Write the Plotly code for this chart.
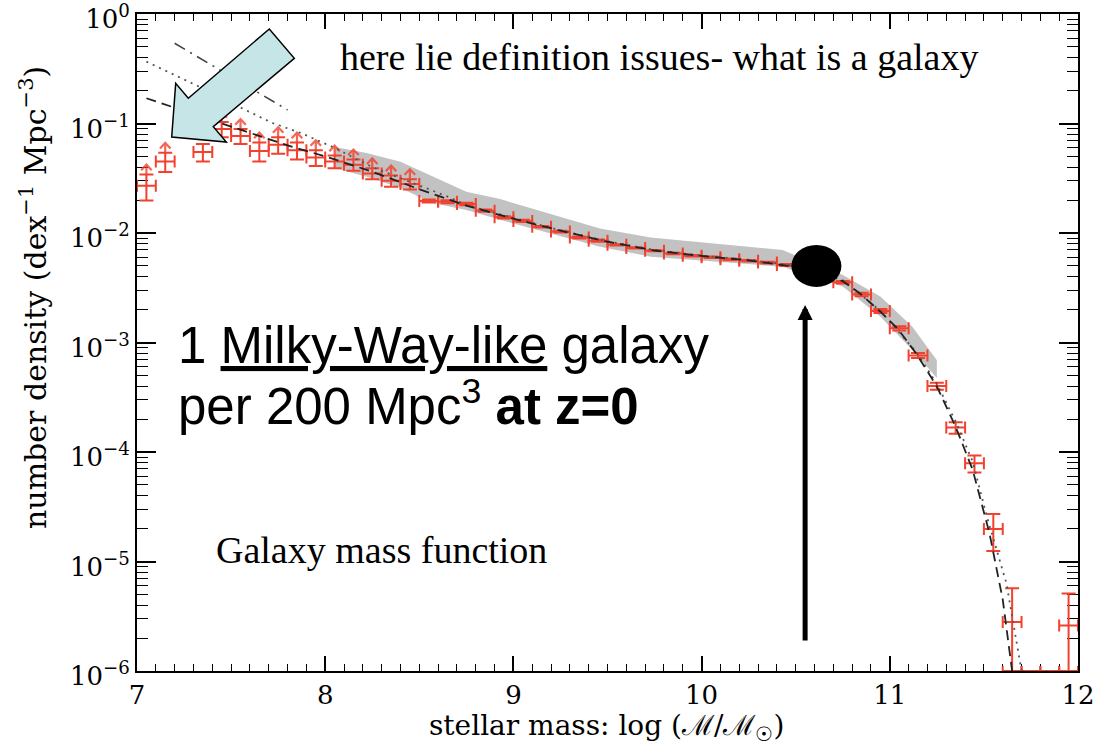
import numpy as np
import plotly.graph_objects as go

# ---------------------------------------------------------------------------
# Galaxy stellar mass function at z = 0
# ---------------------------------------------------------------------------

# binned measurements: bin centre (log M/Msun), density (dex^-1 Mpc^-3), 1-sigma error
mass_bins = [7.05, 7.15, 7.35, 7.45, 7.55, 7.65, 7.75, 7.85, 7.95,
             8.05, 8.15, 8.25, 8.35, 8.45, 8.55, 8.65, 8.75, 8.85, 8.95,
             9.05, 9.15, 9.25, 9.35, 9.45, 9.55, 9.65, 9.75, 9.85, 9.95,
             10.05, 10.15, 10.25, 10.35, 10.45, 10.55, 10.65, 10.75, 10.85,
             10.95, 11.05, 11.15, 11.25, 11.35, 11.45, 11.55, 11.65, 11.95]
density = [0.027, 0.045, 0.055, 0.089, 0.077, 0.056, 0.064, 0.057, 0.049,
           0.045, 0.042, 0.035, 0.030, 0.028, 0.0196, 0.0193, 0.0184, 0.0160, 0.0139,
           0.0129, 0.0114, 0.0103, 0.0091, 0.0085, 0.0078, 0.0073, 0.0069, 0.0065, 0.0062,
           0.0060, 0.00575, 0.00558, 0.00537, 0.0051, 0.0047, 0.0042, 0.00355, 0.00275,
           0.00194, 0.00135, 0.00076, 0.00040, 0.000167, 7.9e-5, 1.98e-5, 2.8e-6, 2.6e-6]
density_err = [0.0072, 0.009, 0.010, 0.014, 0.012, 0.011, 0.011, 0.010, 0.008,
               0.006, 0.005, 0.004, 0.0035, 0.003, 0.0006, 0.0006, 0.0005, 0.0004, 0.0003,
               0.0003, 0.0002, 0.0002, 0.0002, 0.0002, 0.0001, 0.0001, 0.0001, 0.0001, 0.0001,
               0.0001, 0.0001, 0.0001, 0.0001, 0.0001, 0.0001, 0.0001, 0.0001, 0.0001,
               0.00008, 0.00006, 0.00004, 0.00003, 0.00002, 1.4e-5, 7.3e-6, 2.9e-6, 2.5e-6]
# bins that are only lower limits (incompleteness at the faint end)
lower_limit = [1, 1, 0, 1, 1, 1, 1, 1, 1,
               1, 1, 1, 1, 1, 0, 0, 0, 0, 0,
               0, 0, 0, 0, 0, 0, 0, 0, 0, 0,
               0, 0, 0, 0, 0, 0, 0, 0, 0,
               0, 0, 0, 0, 0, 0, 0, 0, 0]
bin_half_width = 0.05

# empty bins, drawn on the lower edge of the plot
empty_bins = [11.65, 11.75, 11.85, 11.95]
plot_floor = 1e-6

# systematic uncertainty envelope
band_mass = [8.05, 8.22, 8.40, 8.57, 8.75, 8.93, 9.19, 9.46, 9.73,
             10.08, 10.43, 10.75, 10.95, 11.12, 11.25]
band_upper = [0.0610, 0.0538, 0.0448, 0.0327, 0.0238, 0.0204, 0.0151, 0.0110, 0.00912,
              0.00805, 0.00700, 0.00413, 0.00263, 0.00139, 0.00069]
band_lower = [0.0393, 0.0327, 0.0258, 0.0188, 0.0162, 0.0132, 0.00993, 0.0075, 0.00608,
              0.00547, 0.00492, 0.00324, 0.00172, 0.000855, 0.000474]

# fitted functions
fit_a_mass = [7.05, 7.3, 7.55, 7.8, 8.0, 8.25, 8.5, 8.75, 9.0, 9.25, 9.5, 9.75, 10.0,
              10.25, 10.5, 10.75, 10.84, 10.95, 11.04, 11.14, 11.25, 11.35, 11.44,
              11.53, 11.6, 11.65]
fit_a_density = [0.170, 0.122, 0.0871, 0.0631, 0.0501, 0.0363, 0.0251, 0.0178, 0.0135,
                 0.0105, 0.00832, 0.00692, 0.00617, 0.00562, 0.0049, 0.00363, 0.00282,
                 0.00191, 0.00135, 0.000794, 0.000398, 0.00017, 6.9e-5, 1.8e-5, 4.5e-6, 1.0e-6]

fit_b_mass = [7.05, 7.33, 7.5, 7.72, 7.87, 8.04, 8.25, 8.55, 8.65, 8.75, 9.0, 9.25, 9.5,
              9.75, 10.0, 10.25, 10.5, 10.75, 10.95, 11.14, 11.25, 11.35, 11.44, 11.515,
              11.62, 11.70]
fit_b_density = [0.367, 0.217, 0.154, 0.101, 0.082, 0.061, 0.040, 0.025, 0.0215, 0.018,
                 0.0137, 0.0106, 0.0084, 0.0070, 0.0062, 0.0057, 0.0050, 0.0037, 0.00195,
                 0.00082, 0.00042, 0.00019, 8.2e-5, 2.6e-5, 6.3e-6, 1.0e-6]

fit_c_mass = [7.2, 7.5, 7.8]
fit_c_density = [0.54, 0.27, 0.133]

# Milky-Way-like galaxy: 1 per 200 Mpc^3
mw_mass = 10.61
mw_density = 1 / 200

x_range = [7, 12]
y_range_log = [-6, 0]
x_ticks = [7, 8, 9, 10, 11, 12]
y_ticks = [1e-6, 1e-5, 1e-4, 1e-3, 1e-2, 1e-1, 1]
y_tick_text = ["10<sup>−6</sup>", "10<sup>−5</sup>", "10<sup>−4</sup>", "10<sup>−3</sup>",
               "10<sup>−2</sup>", "10<sup>−1</sup>", "10<sup>0</sup>"]
x_title = "stellar mass: log (ℳ/ℳ<sub>☉</sub>)"
y_title = "number density (dex<sup>−1</sup> Mpc<sup>−3</sup>)"

# ---------------------------------------------------------------------------
RED = "#f2412e"
SERIF_AX = "DejaVu Serif"

# plot-area geometry in pixels (used for the free-floating callouts)
W, H = 1099, 747
L, R, T, B = 137, 21, 14, 76
PW, PH = W - L - R, H - T - B


def paper(px, py):
    return (px - L) / PW, (H - B - py) / PH


def data_to_paper(m, d):
    return ((m - x_range[0]) / (x_range[1] - x_range[0]),
            (np.log10(d) - y_range_log[0]) / (y_range_log[1] - y_range_log[0]))


fig = go.Figure()

# uncertainty envelope
fig.add_trace(go.Scatter(
    x=band_mass + band_mass[::-1],
    y=band_upper + band_lower[::-1],
    fill="toself", fillcolor="#c2c2c2", mode="lines",
    line=dict(width=0, color="#c2c2c2"), hoverinfo="skip", showlegend=False))

# data points with error bars
fig.add_trace(go.Scatter(
    x=mass_bins, y=density, mode="markers",
    marker=dict(size=1, color="rgba(0,0,0,0)"),
    error_x=dict(type="constant", value=bin_half_width, color=RED, thickness=2, width=6),
    error_y=dict(type="data", array=density_err, color=RED, thickness=2, width=7),
    showlegend=False))

# empty bins on the floor
fig.add_trace(go.Scatter(
    x=empty_bins, y=[plot_floor] * len(empty_bins), mode="markers",
    marker=dict(size=1, color="rgba(0,0,0,0)"),
    error_x=dict(type="constant", value=bin_half_width, color=RED, thickness=2, width=5),
    cliponaxis=False, showlegend=False))

# lower-limit arrows
ax_x, ax_y = [], []
for m, d, e, flag in zip(mass_bins, density, density_err, lower_limit):
    if not flag:
        continue
    top = d + e
    tip = top * 10 ** 0.09
    wing = tip / 10 ** 0.05
    ax_x += [m, m, None, m - 0.028, m, m + 0.028, None]
    ax_y += [top, tip, None, wing, tip, wing, None]
fig.add_trace(go.Scatter(
    x=ax_x, y=ax_y, mode="lines", line=dict(color=RED, width=2.2),
    opacity=0.8, hoverinfo="skip", showlegend=False))

# fitted functions
fig.add_trace(go.Scatter(x=fit_b_mass, y=fit_b_density, mode="lines",
                         line=dict(color="#555555", width=1.8, dash="2px,5px"),
                         showlegend=False))
fig.add_trace(go.Scatter(x=fit_c_mass, y=fit_c_density, mode="lines",
                         line=dict(color="#444444", width=1.6, dash="12px,6px,2px,6px"),
                         showlegend=False))
fig.add_trace(go.Scatter(x=fit_a_mass, y=fit_a_density, mode="lines",
                         line=dict(color="#222222", width=1.8, dash="10px,6px"),
                         showlegend=False))

# Milky-Way marker
cx, cy = data_to_paper(mw_mass, mw_density)
rx, ry = 25 / PW, 21 / PH
fig.add_shape(type="circle", xref="paper", yref="paper",
              x0=cx - rx, x1=cx + rx, y0=cy - ry, y1=cy + ry,
              fillcolor="black", line=dict(color="black", width=0), layer="above")

# vertical arrow pointing at the Milky-Way marker
tip_x, tip_y = paper(806, 305)
fig.add_annotation(x=mw_mass - 0.06, xref="x", y=tip_y, yref="paper", text="",
                   showarrow=True, ax=0, ay=337, arrowhead=2, arrowsize=0.6,
                   arrowwidth=5, arrowcolor="black", standoff=0)

# big callout arrow toward the faint end
poly = [(171.7, 137.0), (175.7, 83.3), (188.3, 98.3), (269.3, 29.0),
        (294.3, 58.3), (213.3, 126.7), (226.3, 142.0)]
pts = [paper(*p) for p in poly]
path = "M " + " L ".join(f"{a:.5f},{b:.5f}" for a, b in pts) + " Z"
fig.add_shape(type="path", xref="paper", yref="paper", path=path,
              fillcolor="#c5e5e7", line=dict(color="black", width=1.5), layer="above")


# text callouts
def note(text, px, py, size, family, anchor="left", angle=0):
    x, y = paper(px, py)
    fig.add_annotation(x=x, y=y, xref="paper", yref="paper", text=text, showarrow=False,
                       xanchor=anchor, yanchor="middle", textangle=angle,
                       font=dict(family=family, size=size, color="black"))


note("here lie definition issues- what is a galaxy", 338, 57, 38, "Liberation Serif")
note("1 <u>Milky-Way-like</u> galaxy", 176, 345, 51, "Liberation Sans")
note("per 200 Mpc<sup>3</sup> <b>at z=0</b>", 176, 403, 51, "Liberation Sans")
note("Galaxy mass function", 214, 550, 38, "Liberation Serif")

# axis titles
note(x_title, 606, 727, 28, SERIF_AX, anchor="center")
note(y_title, 33, 298, 30, SERIF_AX, anchor="center", angle=-90)

minor_y = [k * 10.0 ** p for p in range(-6, 0) for k in range(2, 10)]

fig.update_layout(
    width=W, height=H,
    margin=dict(l=L, r=R, t=T, b=B, autoexpand=False),
    plot_bgcolor="white", paper_bgcolor="white",
    xaxis=dict(
        range=x_range, tickvals=x_ticks, ticks="inside", ticklen=15, tickwidth=1.6,
        tickcolor="black", showline=True, linewidth=2, linecolor="black",
        mirror="allticks", showgrid=False, zeroline=False, layer="below traces",
        ticklabeloverflow="allow", automargin=False,
        minor=dict(dtick=0.1, ticks="inside", ticklen=7, tickwidth=1.4,
                   tickcolor="black", showgrid=False),
        tickfont=dict(family=SERIF_AX, size=26, color="black"),
    ),
    yaxis=dict(
        type="log", range=y_range_log, tickvals=y_ticks, ticktext=y_tick_text,
        ticks="inside", ticklen=19, tickwidth=1.6, tickcolor="black",
        showline=True, linewidth=2, linecolor="black", mirror="allticks",
        showgrid=False, zeroline=False, layer="below traces",
        ticklabeloverflow="allow", automargin=False, ticklabelshift=5,
        minor=dict(tickvals=minor_y, ticks="inside", ticklen=11, tickwidth=1.4,
                   tickcolor="black", showgrid=False),
        tickfont=dict(family=SERIF_AX, size=26, color="black"),
    ),
)

fig.write_html("out.html")
